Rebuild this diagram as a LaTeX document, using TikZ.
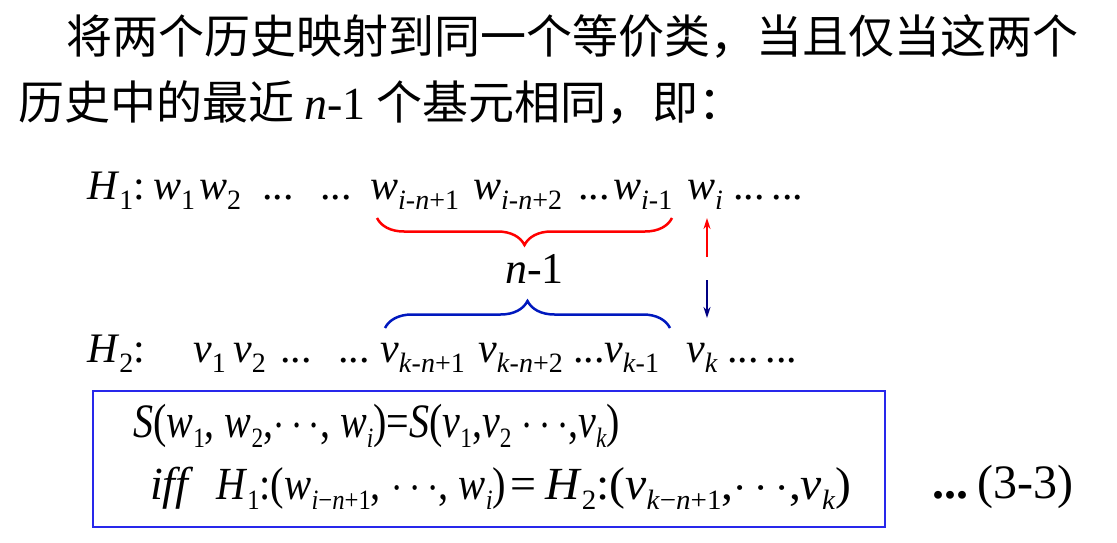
\documentclass[tikz,border=0pt]{standalone}
\usepackage{fix-cm}
\usepackage{fontspec}
\setmainfont{Liberation Serif}
\newfontfamily\cjk{Noto Sans CJK SC}
\usetikzlibrary{decorations.pathreplacing,arrows.meta}
\definecolor{rojo}{RGB}{255,0,0}
\definecolor{azul}{RGB}{0,24,190}
\definecolor{marino}{RGB}{0,0,130}
\definecolor{caja}{RGB}{40,40,235}
\newcommand\sub[1]{\raisebox{-10pt}{\fontsize{28}{28}\selectfont #1}}
\newcommand\ww[1]{\textit{w}\sub{#1}}
\newcommand\vv[1]{\textit{v}\sub{#1}}

\tikzset{
  sim/.style={inner sep=0pt,anchor=base west,font=\fontsize{42}{42}\selectfont},
  grande/.style={sim,font=\fontsize{46}{46}\selectfont},
  chino/.style={inner sep=0pt,anchor=base west,font=\fontsize{46}{46}\selectfont\cjk},
  llave/.style={decorate,decoration={brace,amplitude=27pt},line width=2.5pt},
  flecha/.style={-{Stealth[length=11pt,width=7pt]},line width=2pt},
}

\begin{document}
\begin{tikzpicture}[x=1pt,y=-1pt]
\useasboundingbox (0,0) rectangle (1117,543);

% texto
\node[chino] (lin1) at (66,54) {将两个历史映射到同一个等价类，当且仅当这两个};
\node[chino] (lin2) at (18,119) {历史中的最近 {\rmfamily\textit{n}-1} 个基元相同，即：};

% H1
\node[sim] (h1) at (87,199) {\textit{H}\sub{1}:};
\node[sim] (w1) at (153,199) {\ww{1}};
\node[sim] (w2) at (199,199) {\ww{2}};
\node[sim] (d1) at (262,199) {...};
\node[sim] (d2) at (320,199) {...};
\node[sim] (wa) at (370,199) {\ww{\textit{i}-\textit{n}+1}};
\node[sim] (wb) at (473,199) {\ww{\textit{i}-\textit{n}+2}};
\node[sim] (d3) at (578,199) {...};
\node[sim] (wc) at (613,199) {\ww{\textit{i}-1}};
\node[sim] (wi) at (687,199) {\ww{\textit{i}}};
\node[sim] (d4) at (733,199) {...\,...};

% H2
\node[sim] (h2) at (87,362) {\textit{H}\sub{2}:};
\node[sim] (v1) at (193,362) {\vv{1}};
\node[sim] (v2) at (233,362) {\vv{2}};
\node[sim] (e1) at (280,362) {...};
\node[sim] (e2) at (338,362) {...};
\node[sim] (va) at (380,362) {\vv{\textit{k}-\textit{n}+1}};
\node[sim] (vb) at (478,362) {\vv{\textit{k}-\textit{n}+2}};
\node[sim] (e3) at (573,362) {...};
\node[sim] (vc) at (604,362) {\vv{\textit{k}-1}};
\node[sim] (vk) at (686,362) {\vv{\textit{k}}};
\node[sim] (e4) at (727,362) {...\,...};

% llaves
\coordinate (rb-a) at (672,218);
\coordinate (rb-b) at (377,218);
\draw[llave,rojo] (rb-a) -- (rb-b);
\node[grande,font=\fontsize{44}{44}\selectfont] (nm1) at (505,283) {\textit{n}-1};
\coordinate (bb-a) at (385,328);
\coordinate (bb-b) at (670,328);
\draw[llave,azul] (bb-a) -- (bb-b);

% flechas
\coordinate (ra-s) at (707,257);
\coordinate (ra-e) at (707,218);
\draw[flecha,rojo] (ra-s) -- (ra-e);
\coordinate (ba-s) at (707,280);
\coordinate (ba-e) at (707,318);
\draw[flecha,marino] (ba-s) -- (ba-e);

% caja
\draw[caja,line width=2pt] (93,391) rectangle (885,527);
\node[grande,font=\fontsize{48}{48}\selectfont] (eq1) at (133,437)
  {\resizebox{487pt}{\height}{\textit{S}(\ww{1}, \ww{2},$\cdots$, \ww{\textit{i}})=\textit{S}(\vv{1},\vv{2} $\cdots$,\vv{\textit{k}})}};
\node[grande] (iff) at (150,499) {\textit{iff}};
\node[grande] (eqa) at (216,499)
  {\resizebox{290pt}{\height}{\textit{H}\sub{1}:(\ww{\textit{i}−\textit{n}+1}, $\cdots$, \ww{\textit{i}})}};
\node[grande] (igual) at (510,499) {=};
\node[grande] (eqb) at (545,499)
  {\resizebox{306pt}{\height}{\textit{H}\sub{2}:(\vv{\textit{k}−\textit{n}+1},$\cdots$,\vv{\textit{k}})}};
\node[grande,font=\fontsize{48}{48}\selectfont] (dots) at (932,498) {\textbf{...}};
\node[grande,font=\fontsize{48}{48}\selectfont] (num) at (977,498) {(3-3)};
\end{tikzpicture}
\end{document}
